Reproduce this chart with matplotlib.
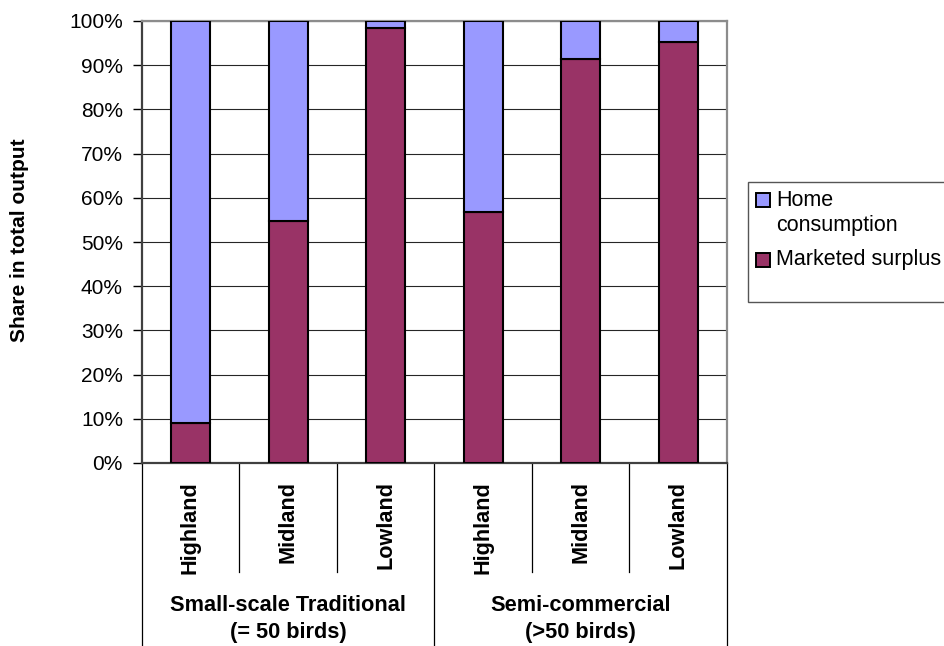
import numpy as np
import matplotlib
matplotlib.use("Agg")
import matplotlib.pyplot as plt
from matplotlib.patches import Rectangle
from matplotlib.transforms import blended_transform_factory

plt.rcParams["font.family"] = ["Liberation Sans", "DejaVu Sans"]

# Data: share of total output (%)
regions = ["Highland", "Midland", "Lowland", "Highland", "Midland", "Lowland"]
groups = ["Small-scale Traditional\n(= 50 birds)", "Semi-commercial\n(>50 birds)"]
marketed_surplus = [9.0, 54.7, 98.4, 56.7, 91.5, 95.3]
home_consumption = [100 - v for v in marketed_surplus]
series_names = ["Home\nconsumption", "Marketed surplus"]
colors = ["#9999FF", "#993366"]
y_ticks = [0, 10, 20, 30, 40, 50, 60, 70, 80, 90, 100]

W, H = 945, 646
fig = plt.figure(figsize=(W / 100, H / 100), dpi=100)
left, right, top, bottom = 141.7, 727.0, 21.0, 463.0
ax = fig.add_axes([left / W, 1 - bottom / H, (right - left) / W, (bottom - top) / H])

x = np.arange(len(regions))
ax.bar(x, marketed_surplus, width=0.4, color=colors[1], edgecolor="black",
       linewidth=1.5, zorder=3)
ax.bar(x, home_consumption, bottom=marketed_surplus, width=0.4, color=colors[0],
       edgecolor="black", linewidth=1.5, zorder=3)

ax.set_xlim(-0.5, len(regions) - 0.5)
ax.set_ylim(0, 100)
ax.set_yticks(y_ticks)
ax.set_yticklabels([f"{t}%" for t in y_ticks], fontsize=15)
ax.tick_params(axis="y", direction="out", length=6.5, width=1, pad=7, colors="black")
ax.set_xticks([])
ax.yaxis.grid(True, color="#000000", linewidth=0.8, zorder=0)
for t in ax.get_ygridlines():
    t.set_alpha(0.85)

for s in ["top", "right"]:
    ax.spines[s].set_color("#8c8c8c")
    ax.spines[s].set_linewidth(1.6)
ax.spines["left"].set_color("#404040")
ax.spines["left"].set_linewidth(1.6)
ax.spines["bottom"].set_color("#404040")
ax.spines["bottom"].set_linewidth(1.6)

# Multi-level category axis below the plot
tr = blended_transform_factory(ax.transData, fig.transFigure)
for k in range(len(regions) + 1):
    xb = k - 0.5
    y_end = 646 if k % 3 == 0 else 572
    ax.plot([xb, xb], [1 - bottom / H, 1 - y_end / H], transform=tr,
            color="black", linewidth=0.9, clip_on=False)

for xi, name in zip(x, regions):
    ax.text(xi, 1 - 481 / H, name, transform=tr, rotation=90, ha="center",
            va="top", fontsize=15.6, fontweight="bold")

for gi, gname in enumerate(groups):
    xc = gi * 3 + 1
    ax.text(xc, 1 - 619 / H, gname, transform=tr, ha="center", va="center",
            multialignment="center", fontsize=15.7, fontweight="bold", linespacing=1.4)

fig.text(20 / W, 1 - 240 / H, "Share in total output", rotation=90, ha="center",
         va="center", fontsize=15, fontweight="bold")

# Legend box
fig.patches.append(Rectangle((748 / W, 1 - 301.7 / H), 210 / W, 120 / H,
                             transform=fig.transFigure, facecolor="white",
                             edgecolor="#555555", linewidth=1.0))
for (ytop, label, col) in [(192.7, series_names[0], colors[0]),
                           (252.7, series_names[1], colors[1])]:
    fig.patches.append(Rectangle((756 / W, 1 - (ytop + 14) / H), 14 / W, 14 / H,
                                 transform=fig.transFigure, facecolor=col,
                                 edgecolor="black", linewidth=1.4))
fig.text(776 / W, 1 - 200 / H, "Home", ha="left", va="center", fontsize=15.5)
fig.text(776 / W, 1 - 225 / H, "consumption", ha="left", va="center", fontsize=15.5)
fig.text(776 / W, 1 - 259.5 / H, "Marketed surplus", ha="left", va="center", fontsize=15.5)

fig.savefig("out.png", dpi=100)
